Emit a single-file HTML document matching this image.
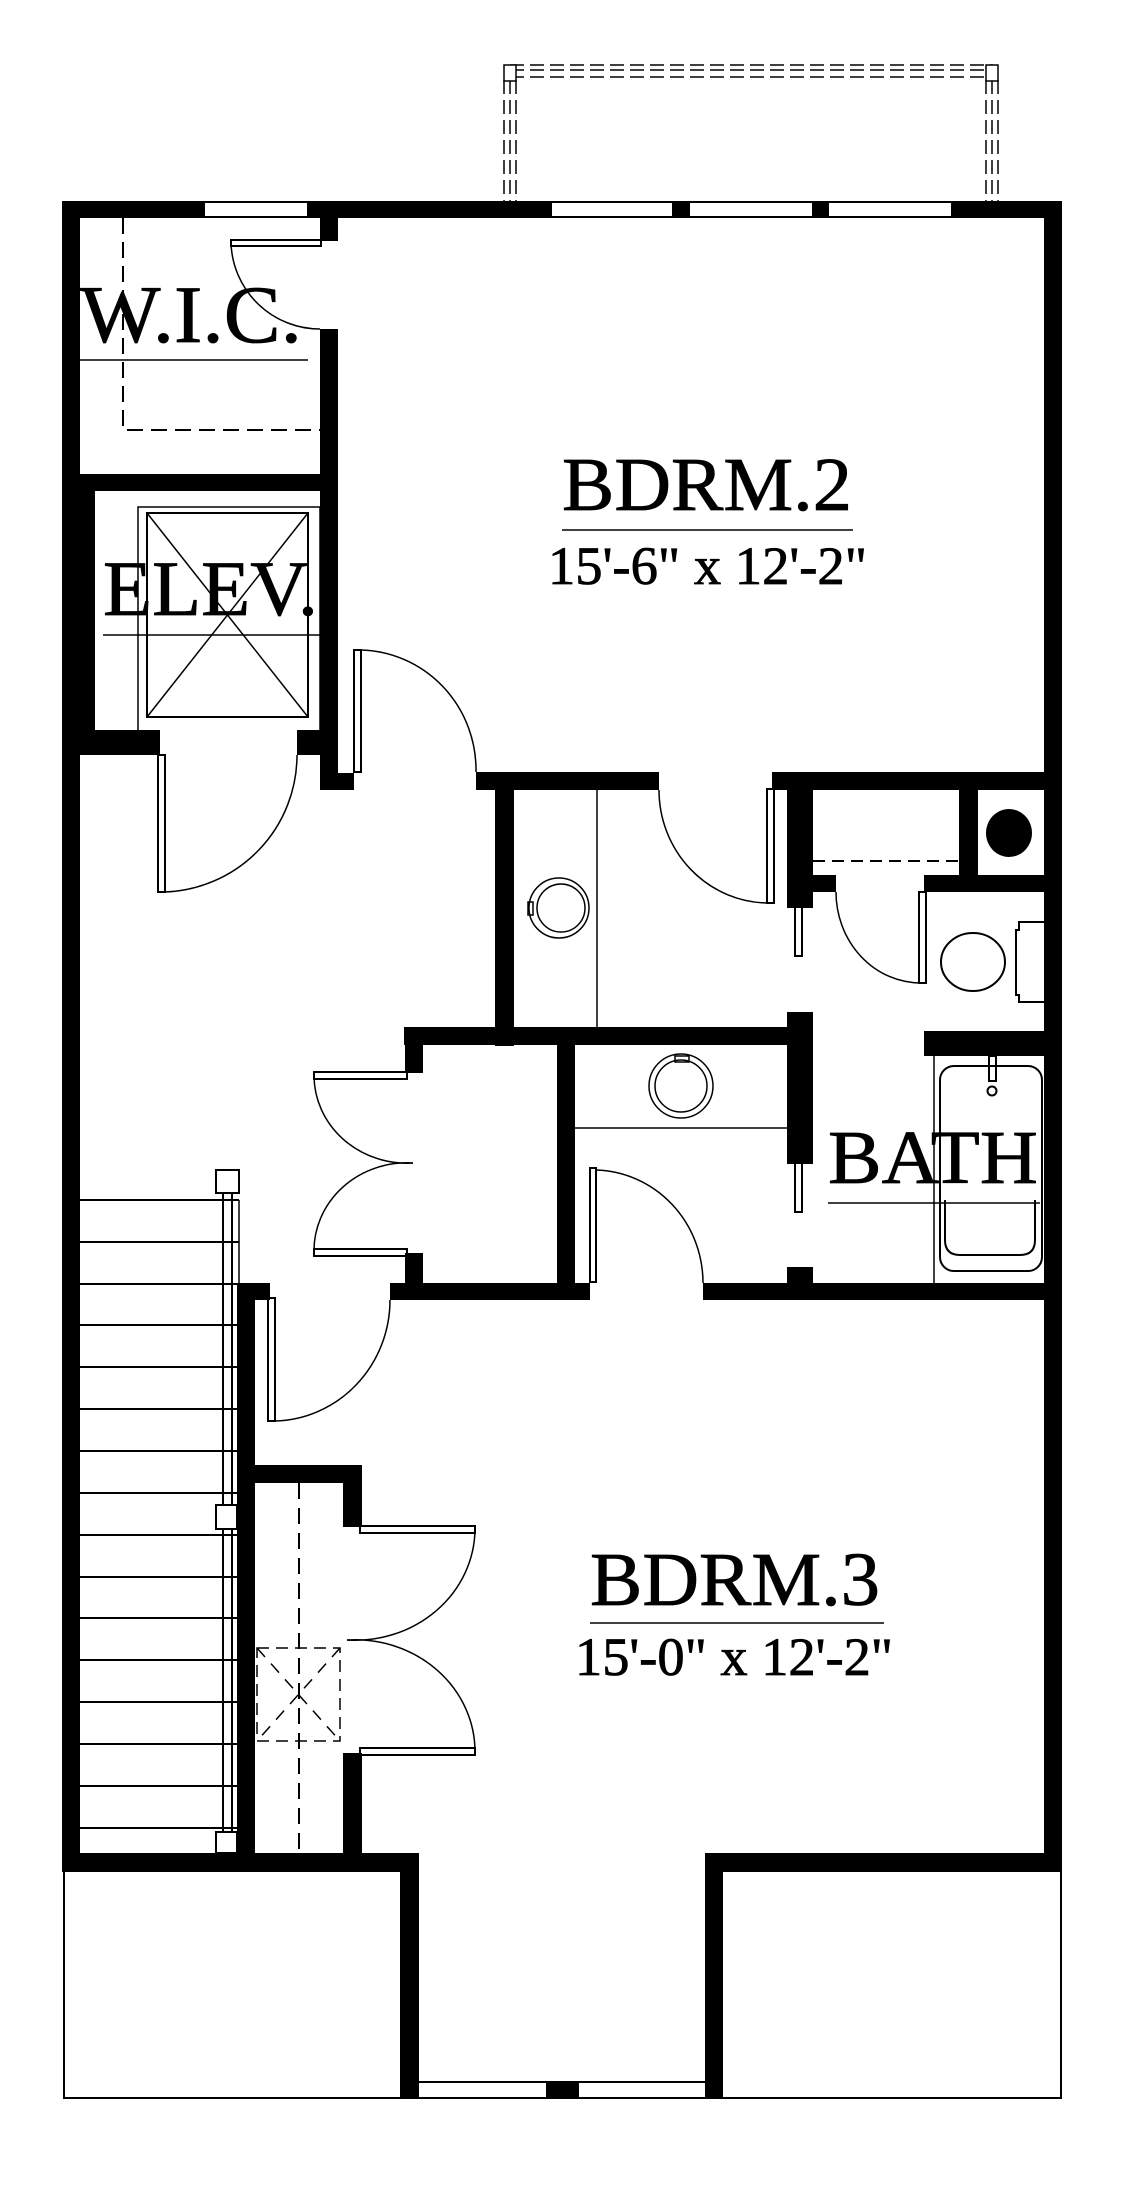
<!DOCTYPE html>
<html><head><meta charset="utf-8"><style>
html,body{margin:0;padding:0;background:#fff;}
svg{display:block;}
text{font-family:"Liberation Serif",serif;fill:#000;stroke:#000;stroke-width:0.8;}
</style></head><body>
<svg width="1140" height="2200" viewBox="0 0 1140 2200" xmlns="http://www.w3.org/2000/svg">
<rect width="1140" height="2200" fill="#fff"/>

<!-- balcony dashed -->
<g fill="none" stroke="#000" stroke-width="1.5" stroke-dasharray="14,6">
  <line x1="510" y1="65" x2="993" y2="65"/>
  <line x1="510" y1="70" x2="993" y2="70"/>
  <line x1="510" y1="77" x2="993" y2="77"/>
  <line x1="504" y1="80" x2="504" y2="201"/>
  <line x1="510" y1="80" x2="510" y2="201"/>
  <line x1="516" y1="80" x2="516" y2="201"/>
  <line x1="986" y1="80" x2="986" y2="201"/>
  <line x1="992" y1="80" x2="992" y2="201"/>
  <line x1="998" y1="80" x2="998" y2="201"/>
</g>
<rect x="504" y="65" width="12" height="16" fill="#fff" stroke="#000" stroke-width="1.5"/>
<rect x="986" y="65" width="12" height="16" fill="#fff" stroke="#000" stroke-width="1.5"/>

<!-- porch outlines -->
<path d="M64,1870 V2098 H400 M723,2098 H1061 V1870" fill="none" stroke="#000" stroke-width="2"/>

<g fill="#000">
<rect x="62" y="201" width="143" height="17"/>
<rect x="307" y="201" width="245" height="17"/>
<rect x="672" y="201" width="18" height="17"/>
<rect x="812" y="201" width="17" height="17"/>
<rect x="951" y="201" width="111" height="17"/>
<rect x="205" y="201" width="102" height="2"/><rect x="205" y="216" width="102" height="2"/>
<rect x="552" y="201" width="120" height="2"/><rect x="552" y="216" width="120" height="2"/>
<rect x="690" y="201" width="122" height="2"/><rect x="690" y="216" width="122" height="2"/>
<rect x="829" y="201" width="122" height="2"/><rect x="829" y="216" width="122" height="2"/>
<rect x="62" y="201" width="18" height="1671"/>
<rect x="1044" y="201" width="18" height="1671"/>
<rect x="320" y="217" width="18" height="24"/>
<rect x="320" y="329" width="18" height="458"/>
<rect x="320" y="773" width="34" height="17"/>
<rect x="62" y="474" width="276" height="17"/>
<rect x="62" y="480" width="33" height="275"/>
<rect x="62" y="730" width="98" height="25"/>
<rect x="297" y="730" width="41" height="25"/>
<rect x="476" y="772" width="183" height="18"/>
<rect x="772" y="772" width="290" height="18"/>
<rect x="495" y="772" width="19" height="274"/>
<rect x="404" y="1027" width="409" height="18"/>
<rect x="405" y="1027" width="18" height="46"/>
<rect x="787" y="772" width="26" height="136"/>
<rect x="787" y="1012" width="26" height="152"/>
<rect x="787" y="1267" width="26" height="20"/>
<rect x="959" y="772" width="19" height="104"/>
<rect x="787" y="875" width="49" height="17"/>
<rect x="924" y="875" width="138" height="17"/>
<rect x="924" y="1031" width="138" height="25"/>
<rect x="557" y="1027" width="18" height="272"/>
<rect x="390" y="1283" width="200" height="17"/>
<rect x="405" y="1253" width="18" height="30"/>
<rect x="703" y="1283" width="359" height="17"/>
<rect x="237" y="1283" width="18" height="589"/>
<rect x="237" y="1283" width="33" height="17"/>
<rect x="237" y="1465" width="125" height="18"/>
<rect x="343" y="1465" width="19" height="62"/>
<rect x="343" y="1753" width="19" height="119"/>
<rect x="62" y="1853" width="356" height="19"/>
<rect x="705" y="1853" width="357" height="19"/>
<rect x="400" y="1853" width="19" height="246"/>
<rect x="705" y="1853" width="18" height="246"/>
<rect x="546" y="2081" width="33" height="18"/>
<rect x="419" y="2081" width="286" height="2"/><rect x="419" y="2097" width="286" height="2"/>
<ellipse cx="1009" cy="833" rx="23" ry="24"/>
</g>

<g fill="none" stroke="#000" stroke-width="1.5">
<polyline points="123,218 123,430 320,430" stroke-dasharray="16,8" stroke-width="2"/>
<rect x="231" y="240" width="90" height="6" stroke-width="2"/>
<path d="M231,243 A89,89 0 0 0 320,329"/>
<path d="M138,730 V507 H320 M320,507 V730" />
<rect x="147" y="513" width="161" height="204" stroke-width="2"/>
<line x1="147" y1="513" x2="308" y2="717"/>
<line x1="308" y1="513" x2="147" y2="717"/>
<rect x="158" y="755" width="7" height="137" stroke-width="2"/>
<path d="M165,892 A137,137 0 0 0 297,755"/>
<rect x="354" y="650" width="7" height="122" stroke-width="2"/>
<path d="M361,650 A118,120 0 0 1 476,772"/>
<rect x="767" y="789" width="7" height="114" stroke-width="2"/>
<path d="M659,790 A110,113 0 0 0 768,903"/>
<line x1="597" y1="790" x2="597" y2="1028"/>
<circle cx="559" cy="908" r="30"/>
<circle cx="561" cy="908" r="24"/>
<rect x="528" y="902" width="5" height="13"/>
<rect x="795" y="815" width="7" height="49" stroke-width="2"/>
<rect x="795" y="865" width="7" height="91" stroke-width="2"/>
<line x1="813" y1="861" x2="959" y2="861" stroke-dasharray="12,7" stroke-width="2"/>
<rect x="919" y="892" width="7" height="91" stroke-width="2"/>
<path d="M836,892 A85,91 0 0 0 921,983"/>
<ellipse cx="973" cy="962" rx="32" ry="29" stroke-width="2"/>
<path d="M1045,922 H1019 V930 H1016 V995 H1019 V1002 H1045" stroke-width="2"/>
<line x1="934" y1="1056" x2="934" y2="1283"/>
<rect x="940" y="1066" width="102" height="205" rx="14" stroke-width="2"/>
<path d="M945,1200 V1240 Q945,1255 960,1255 H1020 Q1035,1255 1035,1240 V1200" stroke-width="2"/>
<rect x="989" y="1056" width="7" height="25" stroke-width="2"/>
<circle cx="992" cy="1091" r="4.5" stroke-width="2"/>
<line x1="575" y1="1128" x2="787" y2="1128"/>
<circle cx="681" cy="1086" r="32"/>
<circle cx="681" cy="1086" r="26"/>
<rect x="675" y="1056" width="14" height="6"/>
<rect x="795" y="1071" width="7" height="46" stroke-width="2"/>
<rect x="795" y="1121" width="7" height="91" stroke-width="2"/>
<rect x="590" y="1168" width="6" height="114" stroke-width="2"/>
<path d="M596,1170 A110,113 0 0 1 703,1283"/>
<rect x="314" y="1072" width="93" height="7" stroke-width="2"/>
<path d="M314,1076 A93,88 0 0 0 413,1163"/>
<rect x="314" y="1249" width="93" height="7" stroke-width="2"/>
<path d="M314,1252 A93,88 0 0 1 413,1163"/>
<rect x="268" y="1298" width="7" height="123" stroke-width="2"/>
<path d="M275,1421 A118,121 0 0 0 390,1300"/>
<rect x="360" y="1526" width="115" height="7" stroke-width="2"/>
<path d="M475,1530 A120,112 0 0 1 347,1640"/>
<rect x="360" y="1748" width="115" height="7" stroke-width="2"/>
<path d="M475,1752 A120,112 0 0 0 347,1640"/>
<line x1="299" y1="1483" x2="299" y2="1853" stroke-dasharray="16,9" stroke-width="2"/>
<rect x="257" y="1648" width="83" height="93" stroke-dasharray="12,7"/>
<line x1="257" y1="1648" x2="340" y2="1741" stroke-dasharray="12,9"/>
<line x1="340" y1="1648" x2="257" y2="1741" stroke-dasharray="12,9"/>
<line x1="223" y1="1193" x2="223" y2="1832" stroke-width="2"/>
<line x1="232" y1="1193" x2="232" y2="1832" stroke-width="2"/>
<line x1="239" y1="1200" x2="239" y2="1283"/>
<rect x="216" y="1170" width="23" height="23" stroke-width="2" fill="#fff"/>
<rect x="216" y="1505" width="21" height="24" stroke-width="2" fill="#fff"/>
<rect x="216" y="1832" width="21" height="21" stroke-width="2" fill="#fff"/>
</g>
<g stroke="#000" stroke-width="2">
<line x1="80" y1="1200" x2="239" y2="1200"/>
<line x1="80" y1="1242" x2="239" y2="1242"/>
<line x1="80" y1="1284" x2="237" y2="1284"/>
<line x1="80" y1="1325" x2="237" y2="1325"/>
<line x1="80" y1="1367" x2="237" y2="1367"/>
<line x1="80" y1="1409" x2="237" y2="1409"/>
<line x1="80" y1="1451" x2="237" y2="1451"/>
<line x1="80" y1="1493" x2="237" y2="1493"/>
<line x1="80" y1="1535" x2="237" y2="1535"/>
<line x1="80" y1="1577" x2="237" y2="1577"/>
<line x1="80" y1="1618" x2="237" y2="1618"/>
<line x1="80" y1="1660" x2="237" y2="1660"/>
<line x1="80" y1="1702" x2="237" y2="1702"/>
<line x1="80" y1="1744" x2="237" y2="1744"/>
<line x1="80" y1="1786" x2="237" y2="1786"/>
<line x1="80" y1="1828" x2="237" y2="1828"/>
</g>

<text x="80" y="342" font-size="82" textLength="222" lengthAdjust="spacingAndGlyphs">W.I.C.</text>
<line x1="80" y1="360" x2="308" y2="360" stroke="#000" stroke-width="1.5"/>
<text x="103" y="615" font-size="78" textLength="215" lengthAdjust="spacingAndGlyphs">ELEV.</text>
<line x1="103" y1="635" x2="320" y2="635" stroke="#000" stroke-width="1.5"/>

<text x="562" y="510" font-size="76" textLength="290" lengthAdjust="spacingAndGlyphs">BDRM.2</text>
<line x1="562" y1="530" x2="853" y2="530" stroke="#000" stroke-width="1.5"/>
<text x="548" y="584" font-size="54" textLength="319" lengthAdjust="spacingAndGlyphs">15'-6" x 12'-2"</text>

<text x="828" y="1183" font-size="76" textLength="210" lengthAdjust="spacingAndGlyphs">BATH</text>
<line x1="828" y1="1203" x2="1040" y2="1203" stroke="#000" stroke-width="1.5"/>

<text x="590" y="1605" font-size="76" textLength="290" lengthAdjust="spacingAndGlyphs">BDRM.3</text>
<line x1="590" y1="1623" x2="884" y2="1623" stroke="#000" stroke-width="1.5"/>
<text x="575" y="1675" font-size="54" textLength="318" lengthAdjust="spacingAndGlyphs">15'-0" x 12'-2"</text>
</svg>
</body></html>
